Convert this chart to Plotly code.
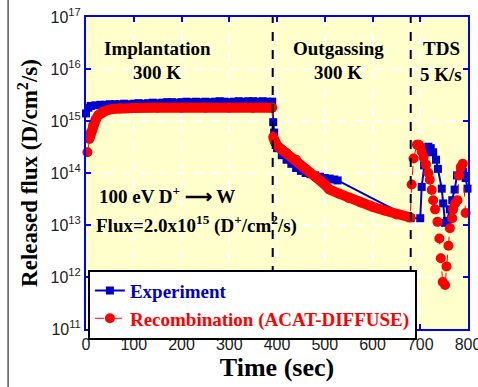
import plotly.graph_objects as go

# ---------------- data ----------------
# Experiment (blue squares)
exp_t = [0, 5, 10, 20, 30, 40, 50, 60, 70, 80, 90, 100, 110, 120, 130, 140, 150, 160, 170, 180,
         190, 200, 210, 220, 230, 240, 250, 260, 270, 280, 290, 300, 310, 320, 330, 340, 350, 360,
         370, 380, 390,
         392, 394, 396, 400, 410, 420, 430, 440, 450, 460, 470, 480, 490, 500, 510, 520, 527,
         680, 700, 703, 708, 712, 717, 722, 727, 733, 737, 745, 748, 752, 756, 762, 767, 772,
         777, 784, 790, 795, 799]
exp_f = [1.4e15, 1.8e15, 1.95e15, 2.0e15, 2.05e15, 2.05e15, 2.1e15, 2.1e15, 2.1e15, 2.15e15, 2.1e15,
         2.15e15, 2.2e15, 2.15e15, 2.2e15, 2.25e15, 2.2e15, 2.25e15, 2.3e15, 2.3e15, 2.25e15,
         2.3e15, 2.35e15, 2.3e15, 2.35e15, 2.3e15, 2.35e15, 2.3e15, 2.35e15, 2.4e15, 2.35e15,
         2.3e15, 2.35e15, 2.4e15, 2.35e15, 2.4e15, 2.4e15, 2.35e15, 2.4e15, 2.35e15, 2.35e15,
         9.5e14, 6.0e14, 4.0e14, 3.0e14, 2.2e14, 1.8e14, 1.5e14, 1.25e14, 1.1e14, 1.0e14, 9.5e13,
         9.0e13, 8.5e13, 8.0e13, 7.8e13, 7.5e13, 7.2e13,
         1.35e13, 1.35e13, 5.4e13, 1.4e14, 2.5e14, 3.2e14, 3.0e14, 2.5e14, 1.8e14, 1.2e14, 5.0e13,
         2.6e13, 1.1e13, 1.2e13, 2.0e13, 3.0e13, 4.8e13, 9.0e13, 1.0e14, 1.05e14, 8.0e13, 5.0e13]

# Recombination (ACAT-DIFFUSE) simulation (red circles)
sim_t = [3, 7, 10, 15, 20, 26, 35, 43, 55, 71, 100, 150, 200, 250, 300, 350, 390,
         392, 395, 400, 410, 420, 440, 460, 480, 500, 510, 530, 550, 575, 600, 625, 650, 679,
         682, 686, 693, 697, 700, 703, 707, 712, 717, 720, 724, 727, 731, 736, 740, 743, 747,
         752, 755, 759, 762, 767, 769, 773, 778, 781, 785, 789, 795]
sim_f = [2.5e14, 4.5e14, 6.0e14, 8.3e14, 1.05e15, 1.3e15, 1.5e15, 1.6e15, 1.7e15, 1.75e15, 1.78e15,
         1.8e15, 1.8e15, 1.8e15, 1.8e15, 1.8e15, 1.8e15,
         4.9e14, 4.0e14, 3.4e14, 2.8e14, 2.4e14, 1.8e14, 1.2e14, 8.5e13, 6.0e13, 4.8e13, 4.0e13,
         3.3e13, 2.7e13, 2.25e13, 1.9e13, 1.6e13, 1.4e13,
         6.0e13, 1.9e14, 3.5e14, 3.5e14, 3.2e14, 2.6e14, 2.0e14, 1.45e14, 1.0e14, 7.4e13, 4.7e13,
         3.0e13, 2.0e13, 1.15e13, 5.5e12, 2.3e12, 8.0e11, 7.0e11, 1.6e12, 4.0e12, 8.7e12, 1.35e13,
         2.0e13, 2.6e13, 3.0e13, 9.0e13, 1.3e14, 1.5e14, 1.7e13]

# dense (overlapping-marker) portions of the simulation: implantation and outgassing
dense_impl = (1, 17)    # index range in sim arrays
dense_out = (17, 34)

x_ticks = [0, 100, 200, 300, 400, 500, 600, 700, 800]
y_tickvals = [1e11, 1e12, 1e13, 1e14, 1e15, 1e16, 1e17]
y_ticktext = ["10<sup>11</sup>", "10<sup>12</sup>", "10<sup>13</sup>", "10<sup>14</sup>",
              "10<sup>15</sup>", "10<sup>16</sup>", "10<sup>17</sup>"]
phase_bounds = [391, 680]

BLUE = "#0000CC"
FRAME = "#0000FF"
RED = "#FF0000"
SERIF = "Liberation Serif, Times New Roman, serif"
SANS = "Liberation Sans, Arial, sans-serif"

fig = go.Figure()

fig.add_trace(go.Scatter(
    x=exp_t, y=exp_f, mode="lines+markers",
    name='<b><span style="color:#0000CC">Experiment</span></b>',
    line=dict(color=BLUE, width=2),
    marker=dict(symbol="square", size=8, color=BLUE),
    cliponaxis=False,
))

# thick band produced by densely overlapping red circles
thick_x = sim_t[dense_impl[0]:dense_impl[1]] + [None] + sim_t[dense_out[0]:dense_out[1]]
thick_y = sim_f[dense_impl[0]:dense_impl[1]] + [None] + sim_f[dense_out[0]:dense_out[1]]
fig.add_trace(go.Scatter(
    x=thick_x, y=thick_y, mode="lines", showlegend=False, hoverinfo="skip",
    line=dict(color=RED, width=10), connectgaps=False, cliponaxis=False,
))

fig.add_trace(go.Scatter(
    x=sim_t, y=sim_f, mode="lines+markers",
    name='<b><span style="color:#FF0000">Recombination (ACAT-DIFFUSE)</span></b>',
    line=dict(color=RED, width=1, dash="dash"),
    marker=dict(symbol="circle", size=10, color=RED),
    cliponaxis=False,
))

shapes = []
for xb in phase_bounds:
    shapes.append(dict(type="line", xref="x", yref="paper", x0=xb, x1=xb, y0=0, y1=1,
                       line=dict(color="black", width=2, dash="dash"), layer="above"))
shapes.append(dict(type="line", xref="paper", yref="paper", x0=-0.204, x1=-0.204, y0=-0.2, y1=1.1,
                   line=dict(color="black", width=1)))

ann_font = dict(family=SERIF, size=19, color="black")
annotations = [
    dict(x=149, y=0.939, xref="x", yref="paper", text="<b>Implantation</b>", showarrow=False, font=ann_font),
    dict(x=149, y=0.862, xref="x", yref="paper", text="<b>300 K</b>", showarrow=False, font=ann_font),
    dict(x=528, y=0.939, xref="x", yref="paper", text="<b>Outgassing</b>", showarrow=False, font=ann_font),
    dict(x=528, y=0.862, xref="x", yref="paper", text="<b>300 K</b>", showarrow=False, font=ann_font),
    dict(x=744, y=0.939, xref="x", yref="paper", text="<b>TDS</b>", showarrow=False, font=ann_font),
    dict(x=744, y=0.855, xref="x", yref="paper", text="<b>5 K/s</b>", showarrow=False, font=ann_font),
    dict(x=0.029, y=0.428, xref="paper", yref="paper", xanchor="left",
         text="<b>100 eV D<sup>+</sup> ⟶ W</b>", showarrow=False,
         font=dict(family=SERIF, size=19, color="black")),
    dict(x=0.022, y=0.29, xref="paper", yref="paper", xanchor="left",
         text="<b>Flux=2.0x10<sup>15</sup> (D<sup>+</sup>/cm<sup>2</sup>/s)</b>", showarrow=False,
         font=dict(family=SERIF, size=19, color="black")),
]

axis_common = dict(
    showline=True, linecolor=FRAME, linewidth=2, mirror="ticks",
    ticks="inside", ticklen=5, tickwidth=2, tickcolor=FRAME,
    showgrid=True, gridcolor="white", gridwidth=1.5, griddash="dash",
    zeroline=False, tickfont=dict(family=SANS, size=16, color="#222"),
    ticklabeloverflow="allow", automargin=False,
)

fig.update_layout(
    width=478, height=387,
    margin=dict(l=86, r=10, t=17, b=58),
    paper_bgcolor="white", plot_bgcolor="#FFFFCC",
    xaxis=dict(range=[0, 800], tickvals=x_ticks,
               title=dict(text="<b>Time (sec)</b>", font=dict(family=SERIF, size=26, color="black"),
                          standoff=2),
               **axis_common),
    yaxis=dict(type="log", range=[11, 17], tickvals=y_tickvals, ticktext=y_ticktext,
               title=dict(text="<b>Released flux (D/cm<sup>2</sup>/s)</b>",
                          font=dict(family=SERIF, size=23, color="black"), standoff=6),
               **axis_common),
    legend=dict(x=0.005, y=0.19, xanchor="left", yanchor="top",
                bgcolor="white", bordercolor="black", borderwidth=2,
                font=dict(family=SERIF, size=19, color="black"),
                itemwidth=30, tracegroupgap=0),
    shapes=shapes, annotations=annotations,
    showlegend=True,
)

fig.write_html("out.html")
